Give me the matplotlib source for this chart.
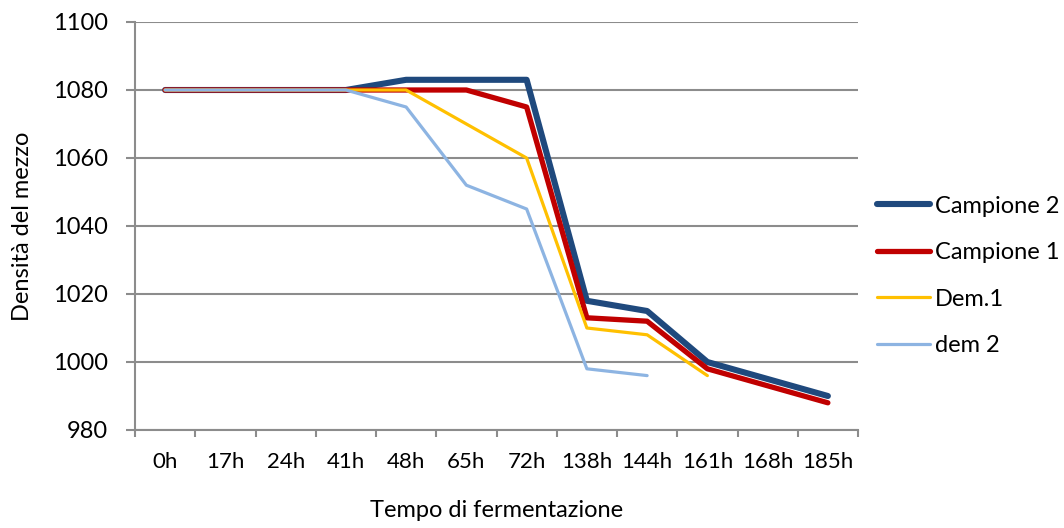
import numpy as np
import matplotlib
matplotlib.use("Agg")
import matplotlib.pyplot as plt
from matplotlib.ticker import FixedLocator

categories = ["0h", "17h", "24h", "41h", "48h", "65h", "72h", "138h", "144h", "161h", "168h", "185h"]
campione2 = [1080, 1080, 1080, 1080, 1083, 1083, 1083, 1018, 1015, 1000, 995, 990]
campione1 = [1080, 1080, 1080, 1080, 1080, 1080, 1075, 1013, 1012, 998, 993, 988]
dem1 = [1080, 1080, 1080, 1080, 1080, 1070, 1060, 1010, 1008, 996, np.nan, np.nan]
dem2 = [1080, 1080, 1080, 1080, 1075, 1052, 1045, 998, 996, np.nan, np.nan, np.nan]
yticks = [980, 1000, 1020, 1040, 1060, 1080, 1100]

plt.rcParams['font.family'] = ['Lato', 'DejaVu Sans']
FS = 17

fig = plt.figure(figsize=(10.64, 5.28), dpi=100)
ax = fig.add_axes([135/1064, 1 - 430/528, (858-135)/1064, (430-22)/528])

x = np.arange(len(categories))
gc = "#8c8c8c"
kw = dict(solid_capstyle="round", solid_joinstyle="round")
ax.plot(x, campione2, color="#1F497D", lw=4.4, label="Campione 2", zorder=3, **kw)
ax.plot(x, campione1, color="#C00000", lw=3.8, label="Campione 1", zorder=4, **kw)
ax.plot(x, dem1, color="#FFC000", lw=2.3, label="Dem.1", zorder=5, **kw)
ax.plot(x, dem2, color="#8DB4E2", lw=2.3, label="dem 2", zorder=6, **kw)

ax.set_xlim(-0.5, len(categories) - 0.5)
ax.set_ylim(980, 1100)
ax.set_yticks(yticks)
ax.set_xticks(x)
ax.set_xticklabels(categories)
ax.xaxis.set_minor_locator(FixedLocator(np.arange(-0.5, len(categories), 1.0)))
ax.tick_params(axis="x", which="major", length=0, labelsize=16, pad=16, colors="#000000")
ax.tick_params(axis="x", which="minor", length=5, width=1.5, color=gc, direction="out")
ax.tick_params(axis="y", which="major", length=6.5, width=1.5, color=gc, labelsize=FS, pad=13)

ax.grid(axis="y", color=gc, lw=1.5, zorder=0)
for s in ["top", "right"]:
    ax.spines[s].set_visible(False)
for s in ["left", "bottom"]:
    ax.spines[s].set_color(gc)
    ax.spines[s].set_linewidth(1.5)
ax.set_axisbelow(True)

ax.set_xlabel("Tempo di fermentazione", fontsize=FS, labelpad=20)
ax.set_ylabel("Densità del mezzo", fontsize=FS, labelpad=14.5)

leg = fig.legend(*ax.get_legend_handles_labels(), loc="center left",
                 bbox_to_anchor=(877/1064, 1 - 276/528), bbox_transform=fig.transFigure,
                 frameon=False, fontsize=FS, handlelength=2.25, handletextpad=0.2,
                 labelspacing=1.08, borderpad=0, borderaxespad=0)

fig.savefig("out.png", dpi=100)
